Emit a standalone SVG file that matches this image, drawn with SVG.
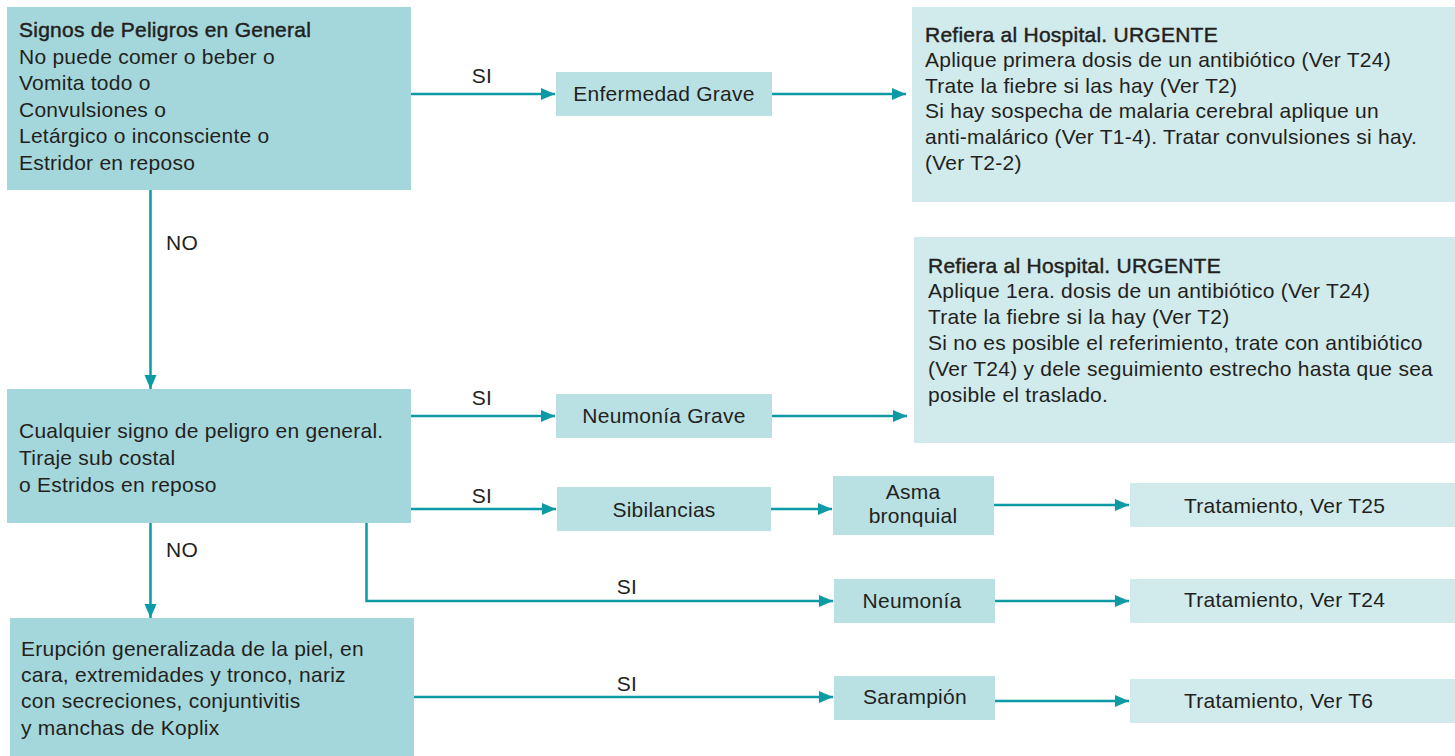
<svg xmlns="http://www.w3.org/2000/svg" width="1455" height="756" viewBox="0 0 1455 756">
<style>
  .dark{fill:#a3d7db}
  .mid{fill:#b9e1e4}
  .light{fill:#d1eaec}
  text{font-family:"Liberation Sans",Arial,sans-serif;font-size:21px;letter-spacing:0.25px;fill:#231f20}
  .c{text-anchor:middle}
  .h{stroke:#231f20;stroke-width:0.45}
  .ln{fill:none;stroke:#0c9aa5;stroke-width:2.5;marker-end:url(#ah)}
</style>
<defs>
  <marker id="ah" markerUnits="userSpaceOnUse" markerWidth="15" markerHeight="13" refX="14" refY="6" orient="auto">
    <path d="M0,0 L14,6 L0,12 z" fill="#0c9aa5"/>
  </marker>
</defs>
<rect width="1455" height="756" fill="#ffffff"/>

<g id="connectors">
  <line class="ln" x1="411" y1="94" x2="555" y2="94"/>
  <line class="ln" x1="772" y1="94" x2="906" y2="94"/>
  <line class="ln" x1="150.5" y1="190" x2="150.5" y2="389"/>
  <line class="ln" x1="411" y1="416" x2="555" y2="416"/>
  <line class="ln" x1="772" y1="416" x2="907" y2="416"/>
  <line class="ln" x1="411" y1="509" x2="556" y2="509"/>
  <line class="ln" x1="771" y1="509" x2="832" y2="509"/>
  <line class="ln" x1="994" y1="505" x2="1129" y2="505"/>
  <line class="ln" x1="150.5" y1="523" x2="150.5" y2="618"/>
  <polyline class="ln" points="366.5,523 366.5,601 833,601"/>
  <line class="ln" x1="995" y1="601" x2="1129" y2="601"/>
  <line class="ln" x1="414" y1="697" x2="833" y2="697"/>
  <line class="ln" x1="995" y1="701" x2="1129" y2="701"/>
  <text class="c" x="482" y="83">SI</text>
  <text x="166" y="250">NO</text>
  <text class="c" x="482" y="405">SI</text>
  <text class="c" x="482" y="503">SI</text>
  <text x="166" y="557">NO</text>
  <text class="c" x="627" y="594">SI</text>
  <text class="c" x="627" y="691">SI</text>
</g>

<g id="n1">
  <rect class="dark" x="7" y="7" width="404" height="183"/>
  <text x="19" y="37" class="h">Signos de Peligros en General</text>
  <text x="19" y="64">No puede comer o beber o</text>
  <text x="19" y="90">Vomita todo o</text>
  <text x="19" y="117">Convulsiones o</text>
  <text x="19" y="143">Letárgico o inconsciente o</text>
  <text x="19" y="170">Estridor en reposo</text>
</g>

<g id="eg">
  <rect class="mid" x="556" y="72" width="216" height="44"/>
  <text class="c" x="664" y="101">Enfermedad Grave</text>
</g>

<g id="r1">
  <rect class="light" x="912" y="7" width="543" height="195"/>
  <text x="925" y="42" class="h">Refiera al Hospital. URGENTE</text>
  <text x="925" y="67">Aplique primera dosis de un antibiótico (Ver T24)</text>
  <text x="925" y="93">Trate la fiebre si las hay (Ver T2)</text>
  <text x="925" y="118">Si hay sospecha de malaria cerebral aplique un</text>
  <text x="925" y="144">anti-malárico (Ver T1-4). Tratar convulsiones si hay.</text>
  <text x="925" y="170">(Ver T2-2)</text>
</g>

<g id="n2">
  <rect class="dark" x="7" y="389" width="404" height="134"/>
  <text x="19" y="438">Cualquier signo de peligro en general.</text>
  <text x="19" y="465">Tiraje sub costal</text>
  <text x="19" y="492">o Estridos en reposo</text>
</g>

<g id="ng">
  <rect class="mid" x="556" y="394" width="216" height="44"/>
  <text class="c" x="664" y="423">Neumonía Grave</text>
</g>

<g id="r2">
  <rect class="light" x="914" y="237" width="541" height="206"/>
  <text x="928" y="273" class="h">Refiera al Hospital. URGENTE</text>
  <text x="928" y="298">Aplique 1era. dosis de un antibiótico (Ver T24)</text>
  <text x="928" y="324">Trate la fiebre si la hay (Ver T2)</text>
  <text x="928" y="350">Si no es posible el referimiento, trate con antibiótico</text>
  <text x="928" y="376">(Ver T24) y dele seguimiento estrecho hasta que sea</text>
  <text x="928" y="402">posible el traslado.</text>
</g>

<g id="sib">
  <rect class="mid" x="557" y="487" width="214" height="44"/>
  <text class="c" x="664" y="517">Sibilancias</text>
</g>

<g id="asma">
  <rect class="mid" x="833" y="476" width="161" height="59"/>
  <text class="c" x="913" y="499">Asma</text>
  <text class="c" x="913" y="523">bronquial</text>
</g>

<g id="t25">
  <rect class="light" x="1130" y="483" width="325" height="44"/>
  <text x="1184" y="513">Tratamiento, Ver T25</text>
</g>

<g id="neu">
  <rect class="mid" x="834" y="579" width="161" height="44"/>
  <text class="c" x="912" y="608">Neumonía</text>
</g>

<g id="t24">
  <rect class="light" x="1130" y="579" width="325" height="44"/>
  <text x="1184" y="607">Tratamiento, Ver T24</text>
</g>

<g id="n3">
  <rect class="dark" x="10" y="618" width="404" height="138"/>
  <text x="21" y="656">Erupción generalizada de la piel, en</text>
  <text x="21" y="682">cara, extremidades y tronco, nariz</text>
  <text x="21" y="708">con secreciones, conjuntivitis</text>
  <text x="21" y="735">y manchas de Koplix</text>
</g>

<g id="sar">
  <rect class="mid" x="834" y="676" width="161" height="44"/>
  <text class="c" x="915" y="704">Sarampión</text>
</g>

<g id="t6">
  <rect class="light" x="1130" y="679" width="325" height="44"/>
  <text x="1184" y="708">Tratamiento, Ver T6</text>
</g>
</svg>
